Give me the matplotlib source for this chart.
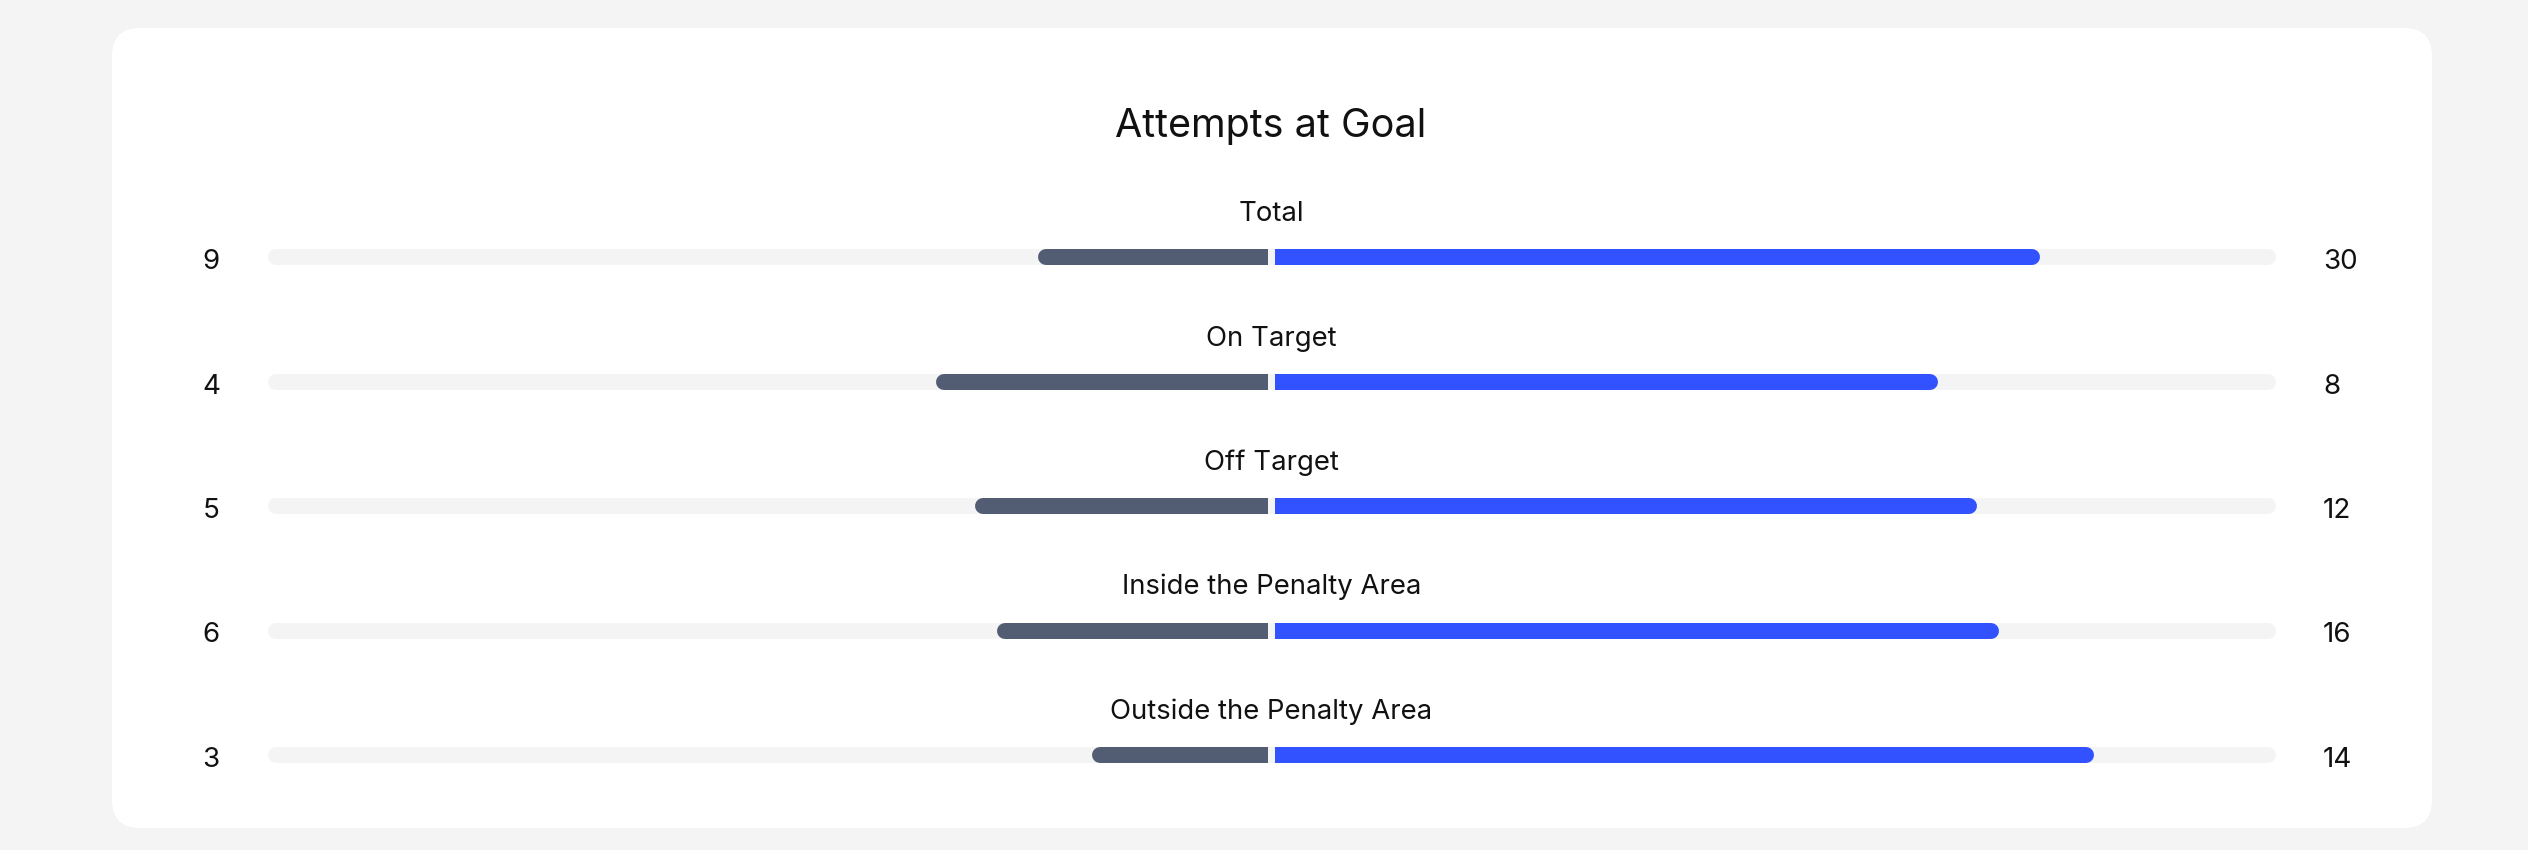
# head-to-head bars: attempts at goal
import matplotlib.pyplot as plt
from matplotlib.patches import FancyBboxPatch

plt.rcParams['font.family'] = ['Inter', 'DejaVu Sans']

title = "Attempts at Goal"
categories = ["Total", "On Target", "Off Target",
              "Inside the Penalty Area", "Outside the Penalty Area"]
home_values = [9, 4, 5, 6, 3]
away_values = [30, 8, 12, 16, 14]

home_color = '#525c73'
away_color = '#3352ff'
track_color = '#f4f4f4'
page_color = '#f4f4f4'

W, H = 2528, 850
fig = plt.figure(figsize=(W / 100, H / 100), dpi=100)
fig.patch.set_facecolor(page_color)
ax = fig.add_axes([0, 0, 1, 1])
ax.set_xlim(0, W)
ax.set_ylim(H, 0)
ax.axis('off')

# white card
card = FancyBboxPatch((112, 28), 2320, 800, boxstyle="round,pad=0,rounding_size=28",
                      facecolor='white', edgecolor='none')
ax.add_patch(card)

ax.text(1271, 137, title, ha='center', va='baseline', fontsize=28.5, color='#111111')

cx = 1271.5          # centre of the track
half = 1004          # half track length
bar_scale = 995      # length of a bar at 100 %
gap = 3.5
bar_h = 16
r = bar_h / 2
row_y0 = 257
row_step = 124.5
lw = bar_h * 72 / 100  # px -> points


def rounded_line(x0, x1, y, color):
    # line with round caps, endpoints shrunk so caps land on x0/x1
    ax.plot([x0 + r, x1 - r], [y, y], color=color, lw=lw,
            solid_capstyle='round', zorder=2)


for i, (cat, hv, av) in enumerate(zip(categories, home_values, away_values)):
    y = row_y0 + i * row_step
    total = hv + av

    # background track
    rounded_line(cx - half, cx + half, y, track_color)

    # home bar (left), flat at the centre
    left = cx - gap - hv / total * bar_scale
    rounded_line(left, cx - gap, y, home_color)
    ax.plot([cx - gap - 2 * r, cx - gap], [y, y], color=home_color, lw=lw,
            solid_capstyle='butt', zorder=3)

    # away bar (right), flat at the centre
    right = cx + gap + av / total * bar_scale
    rounded_line(cx + gap, right, y, away_color)
    ax.plot([cx + gap, cx + gap + 2 * r], [y, y], color=away_color, lw=lw,
            solid_capstyle='butt', zorder=3)

    ax.text(cx, y - 36, cat, ha='center', va='baseline', fontsize=19.8, color='#111111')
    ax.text(211, y + 12, str(hv), ha='center', va='baseline', fontsize=20, color='#111111')
    ax.text(2323, y + 12, str(av), ha='left', va='baseline', fontsize=20, color='#111111')

plt.savefig("out.png", dpi=100, facecolor=page_color)
